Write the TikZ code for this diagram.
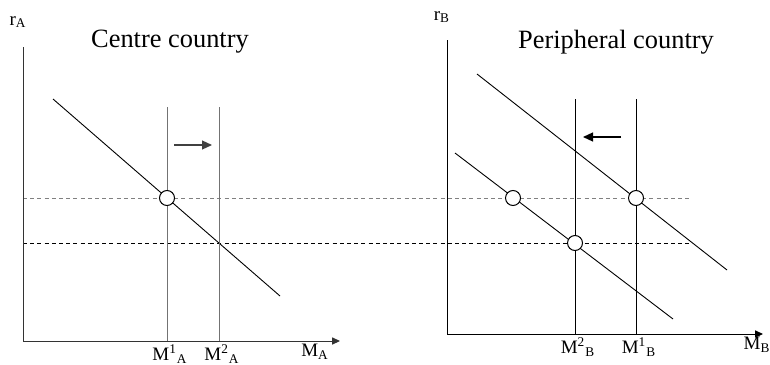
\documentclass[tikz,border=0pt]{standalone}
\usepackage{fontspec}
\setmainfont{Liberation Serif}
\usepackage{tikz}
\usetikzlibrary{arrows.meta}

\begin{document}
\begin{tikzpicture}[
    x=0.5pt, y=-0.5pt,
    axis/.style={line width=0.5pt, -{Triangle[length=4pt, width=3.6pt]}},
    demand/.style={line width=0.45pt},
    supply/.style={line width=0.5pt},
    ratelevel/.style={line width=0.5pt, dash pattern=on 2pt off 1.6pt},
    eqpoint/.style={circle, draw, fill=white, line width=0.5pt, minimum size=7.5pt, inner sep=0pt},
    shiftarrow/.style={line width=0.6pt, -{Triangle[length=5pt, width=4.5pt]}},
    title/.style={font=\fontsize{13.2}{15}\selectfont},
    axlabel/.style={font=\fontsize{9.5}{11}\selectfont, inner sep=0pt}
]
\useasboundingbox (0,0) rectangle (770,364);
% centre country
\coordinate (oA) at (23,341);
\coordinate (yA) at (23,47);
\coordinate (xA) at (340,341);
\coordinate (dA1) at (53,99);
\coordinate (dA2) at (280,296);
\coordinate (m1Atop) at (167,107);
\coordinate (m1A) at (167,341);
\coordinate (m2Atop) at (219,107);
\coordinate (m2A) at (219,341);
\coordinate (shAfrom) at (174,145);
\coordinate (shAto) at (212,145);
\node[title] (titleA) at (170,42) {Centre country};
\node[axlabel] (rA) at (18,22) {r\textsubscript{A}};
\node[axlabel, anchor=north] (lm1A) at (170,344) {M\textsuperscript{1}\textsubscript{A}};
\node[axlabel, anchor=north] (lm2A) at (222,344) {M\textsuperscript{2}\textsubscript{A}};
\node[axlabel, anchor=north] (lMA) at (315,344) {M\textsubscript{A}};
% peripheral country
\coordinate (oB) at (447,334);
\coordinate (yB) at (447,40);
\coordinate (xB) at (763,334);
\coordinate (dB1) at (477,74);
\coordinate (dB2) at (727,270);
\coordinate (dC1) at (455,153);
\coordinate (dC2) at (673,319);
\coordinate (m2Btop) at (575,99);
\coordinate (m2B) at (575,334);
\coordinate (m1Btop) at (636,99);
\coordinate (m1B) at (636,334);
\coordinate (shBfrom) at (621,137);
\coordinate (shBto) at (583,137);
\node[title] (titleB) at (616,42) {Peripheral country};
\node[axlabel] (rB) at (442,17) {r\textsubscript{B}};
\node[axlabel, anchor=north] (lm2B) at (578,337) {M\textsuperscript{2}\textsubscript{B}};
\node[axlabel, anchor=north] (lm1B) at (639,337) {M\textsuperscript{1}\textsubscript{B}};
\node[axlabel, anchor=north] (lMB) at (757,337) {M\textsubscript{B}};
% interest rate levels
\coordinate (hiL) at (23,198);
\coordinate (hiR) at (689,198);
\coordinate (loL) at (23,243);
\coordinate (loR) at (689,243);
\draw[ratelevel, black!50] (hiL) -- (hiR);
\draw[ratelevel] (loL) -- (loR);
\draw[axis, black!80] (yA) -- (oA) -- (xA);
\draw[axis] (yB) -- (oB) -- (xB);
\draw[demand] (dA1) -- (dA2);
\draw[supply, black!55] (m1Atop) -- (m1A);
\draw[supply, black!55] (m2Atop) -- (m2A);
\draw[demand] (dB1) -- (dB2);
\draw[demand] (dC1) -- (dC2);
\draw[supply] (m2Btop) -- (m2B);
\draw[supply] (m1Btop) -- (m1B);
\draw[shiftarrow, black!75] (shAfrom) -- (shAto);
\draw[shiftarrow] (shBfrom) -- (shBto);
\node[eqpoint] (eqA) at (167,198) {};
\node[eqpoint] (eqB0) at (513,198) {};
\node[eqpoint] (eqB1) at (636,198) {};
\node[eqpoint] (eqB2) at (575,243) {};
\end{tikzpicture}
\end{document}
